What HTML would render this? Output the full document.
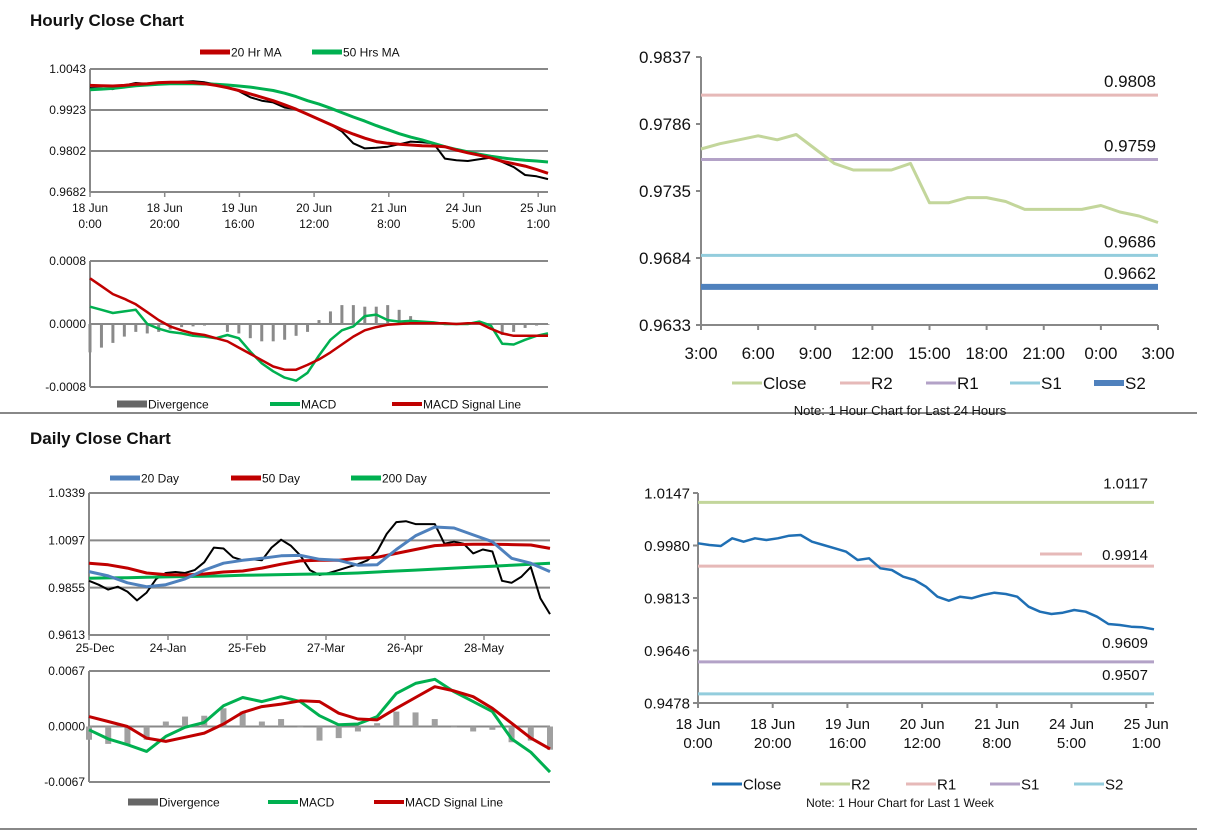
<!DOCTYPE html>
<html><head><meta charset="utf-8"><style>
html,body{margin:0;padding:0;background:#fff;width:1212px;height:834px;overflow:hidden}
svg{display:block;font-family:"Liberation Sans",Arial,sans-serif}
</style></head><body>
<svg id="s" width="1212" height="834" viewBox="0 0 1212 834">
<text x="30" y="26" font-size="17" font-weight="bold" fill="#111">Hourly Close Chart</text>
<text x="30" y="444" font-size="17" font-weight="bold" fill="#111">Daily Close Chart</text>
<line x1="0" y1="413" x2="1197" y2="413" stroke="#888" stroke-width="2"/>
<line x1="0" y1="829" x2="1197" y2="829" stroke="#888" stroke-width="2"/>
</svg>
<script>
// ---- Hourly (top-left) ----
const hourTicks=["18 Jun|0:00","18 Jun|20:00","19 Jun|16:00","20 Jun|12:00","21 Jun|8:00","24 Jun|5:00","25 Jun|1:00"];
const hourYTicks=["1.0043","0.9923","0.9802","0.9682"];
const hourClose=[0.9987,0.9986,0.9984,0.9995,1.0002,1.0000,1.0003,1.0004,1.0005,1.0007,1.0004,0.9998,0.9990,0.9978,0.9960,0.9950,0.9945,0.9930,0.9925,0.9910,0.9895,0.9880,0.9860,0.9825,0.9810,0.9812,0.9815,0.9822,0.9830,0.9828,0.9825,0.9780,0.9775,0.9773,0.9778,0.9783,0.9770,0.9755,0.9732,0.9728,0.9720];
const hourMA20=[0.9995,0.9994,0.9993,0.9995,0.9998,1.0000,1.0003,1.0004,1.0004,1.0003,1.0000,0.9995,0.9988,0.9980,0.9970,0.9960,0.9950,0.9938,0.9925,0.9910,0.9895,0.9880,0.9865,0.9852,0.9840,0.9830,0.9825,0.9822,0.9820,0.9818,0.9817,0.9815,0.9805,0.9797,0.9790,0.9782,0.9772,0.9765,0.9758,0.9748,0.9737];
const hourMA50=[0.9982,0.9984,0.9986,0.9990,0.9994,0.9996,0.9998,1.0000,1.0000,1.0000,0.9999,0.9998,0.9996,0.9993,0.9990,0.9985,0.9980,0.9972,0.9962,0.9950,0.9940,0.9928,0.9915,0.9902,0.9890,0.9877,0.9865,0.9853,0.9843,0.9835,0.9825,0.9815,0.9807,0.9800,0.9793,0.9787,0.9782,0.9778,0.9775,0.9773,0.9770];
const hourMacdTicks=["0.0008","0.0000","-0.0008"];
const hourMacd=[0.00022,0.00018,0.00014,0.00016,0.00018,0.0,-0.00006,-0.0001,-0.00012,-0.00015,-0.00016,-0.00018,-0.00014,-0.00018,-0.00035,-0.00050,-0.00060,-0.00068,-0.00072,-0.00062,-0.00040,-0.00020,-0.00008,-0.00003,0.00010,0.00012,0.00005,0.00003,0.00004,0.00003,0.00002,0.0,0.0,0.0,0.00003,-0.00002,-0.00025,-0.00026,-0.00020,-0.00015,-0.00012];
const hourSignal=[0.00058,0.00048,0.00038,0.00032,0.00025,0.00015,0.00005,-0.00003,-0.00008,-0.00012,-0.00014,-0.00018,-0.00022,-0.00030,-0.00038,-0.00046,-0.00054,-0.00058,-0.00058,-0.00052,-0.00045,-0.00036,-0.00026,-0.00016,-0.00008,-0.00004,-0.00001,0.0,0.00001,0.00001,0.00001,0.00001,0.0,0.00001,0.00001,-0.00006,-0.00012,-0.00015,-0.00015,-0.00015,-0.00015];
const hourDiv=[-0.00036,-0.00030,-0.00024,-0.00016,-0.0001,-0.00012,-0.0001,-0.00007,-0.00004,-0.00003,-0.00002,0.00001,-0.0001,-0.00012,-0.00018,-0.00022,-0.00022,-0.0002,-0.00015,-0.0001,0.00005,0.00016,0.00024,0.00024,0.00022,0.00022,0.00024,0.00018,0.0001,0.00004,0.00002,0.00001,0.0,-0.00001,0.00001,-0.00002,-0.00014,-0.0001,-0.00005,-0.00002,-0.00001];
// ---- 24h (top-right) ----
const dayHourTicks=["3:00","6:00","9:00","12:00","15:00","18:00","21:00","0:00","3:00"];
const dayHourYTicks=["0.9837","0.9786","0.9735","0.9684","0.9633"];
const dayHourClose=[0.9767,0.9771,0.9774,0.9777,0.9774,0.9778,0.9767,0.9756,0.9751,0.9751,0.9751,0.9756,0.9726,0.9726,0.9730,0.9730,0.9727,0.9721,0.9721,0.9721,0.9721,0.9724,0.9719,0.9716,0.9711];
const dayHourLevels=[["R2",0.9808,"#e6b9b8",3],["R1",0.9759,"#b3a2c7",3],["S1",0.9686,"#93cddd",3],["S2",0.9662,"#4f81bd",6]];
// ---- Daily (bottom-left) ----
const dailyTicks=["25-Dec","24-Jan","25-Feb","27-Mar","26-Apr","28-May"];
const dailyYTicks=["1.0339","1.0097","0.9855","0.9613"];
const dailyClose=[0.9890,0.9870,0.9845,0.9860,0.9835,0.9790,0.9830,0.9900,0.9930,0.9935,0.9930,0.9945,0.9985,1.0060,1.0055,1.0010,0.9995,1.0000,0.9995,1.0060,1.0100,1.0070,1.0020,0.9945,0.9920,0.9930,0.9945,0.9960,0.9975,0.9995,1.0040,1.0130,1.0190,1.0195,1.0180,1.0180,1.0180,1.0080,1.0090,1.0080,1.0030,1.0050,1.0040,0.9890,0.9880,0.9910,0.9960,0.9800,0.9720];
const daily20=[0.9937,0.9915,0.9880,0.9860,0.9870,0.9900,0.9945,0.9980,0.9995,1.0005,1.0018,1.0020,1.0000,0.9995,0.9970,0.9972,1.0050,1.0120,1.0165,1.0160,1.0125,1.0090,1.0005,0.9980,0.9937];
const daily50=[0.9980,0.9972,0.9955,0.9930,0.9922,0.9920,0.9925,0.9935,0.9940,0.9955,0.9975,0.9992,0.9995,0.9995,1.0005,1.0010,1.0030,1.0050,1.0070,1.0075,1.0077,1.0077,1.0075,1.0073,1.0056];
const daily200=[0.9903,0.9905,0.9906,0.9908,0.9910,0.9912,0.9913,0.9915,0.9918,0.9920,0.9922,0.9924,0.9925,0.9927,0.9930,0.9935,0.9940,0.9945,0.9950,0.9955,0.9960,0.9965,0.9970,0.9975,0.9980];
const dailyMacdTicks=["0.0067","0.0000","-0.0067"];
const dailyMacd=[-0.0004,-0.0015,-0.0022,-0.0030,-0.0012,-0.0001,0.0005,0.0025,0.0035,0.0030,0.0036,0.0030,0.0013,0.0002,0.0003,0.0012,0.0040,0.0052,0.0057,0.0042,0.0030,0.0018,-0.0015,-0.0031,-0.0055];
const dailySignal=[0.0012,0.0006,0.0000,-0.0014,-0.0018,-0.0013,-0.0008,0.0003,0.0017,0.0024,0.0027,0.0031,0.0030,0.0016,0.0009,0.0008,0.0022,0.0035,0.0048,0.0043,0.0036,0.0022,0.0004,-0.0014,-0.0027];
const dailyDiv=[-0.0016,-0.0021,-0.0022,-0.0016,0.0006,0.0012,0.0013,0.0022,0.0018,0.0006,0.0009,-0.0001,-0.0017,-0.0014,-0.0006,0.0004,0.0018,0.0017,0.0009,-0.0001,-0.0006,-0.0004,-0.0019,-0.0017,-0.0028];
// ---- Week (bottom-right) ----
const weekTicks=["18 Jun|0:00","18 Jun|20:00","19 Jun|16:00","20 Jun|12:00","21 Jun|8:00","24 Jun|5:00","25 Jun|1:00"];
const weekYTicks=["1.0147","0.9980","0.9813","0.9646","0.9478"];
const weekClose=[0.99867,0.99814,0.99782,1.00026,0.99920,1.00026,0.99973,1.00026,1.00111,1.00132,0.99920,0.99814,0.99707,0.99601,0.99336,0.99389,0.99070,0.99017,0.98805,0.98699,0.98486,0.98167,0.98040,0.98167,0.98114,0.98221,0.98295,0.98252,0.98167,0.97849,0.97690,0.97615,0.97658,0.97743,0.97690,0.97530,0.97297,0.97265,0.97212,0.97191,0.97127];
const weekLevels=[["R2",1.0117,"#c3d69b"],["R1",0.9914,"#e6b9b8"],["S1",0.9609,"#b3a2c7"],["S2",0.9507,"#93cddd"]];

const S=document.getElementById('s');const NS='http://www.w3.org/2000/svg';
function mk(tag,at,txt){const e=document.createElementNS(NS,tag);for(const k in at)e.setAttribute(k,at[k]);if(txt!==undefined)e.textContent=txt;S.appendChild(e);return e;}
function scale(d0,d1,r0,r1){return v=>r0+(v-d0)/(d1-d0)*(r1-r0);}
function poly(vals,xf,yf,color,w,name){
  const pts=vals.map((v,i)=>xf(i/(vals.length-1)).toFixed(1)+','+yf(v).toFixed(1)).join(' ');
  const e=mk('polyline',{points:pts,fill:'none',stroke:color,'stroke-width':w,'stroke-linejoin':'round'});
  
  
}
function ytext(x,y,t,fs,name){const e=mk('text',{x:x,y:y+fs*0.35,'font-size':fs,'text-anchor':'end',fill:'#111'},t);
  
  }
function legend(items,y,fs){items.forEach(it=>{const[x,label,color,w]=it;
  const l=mk('line',{x1:x,y1:y,x2:x+30,y2:y,stroke:color,'stroke-width':w});
  
  
  const t=mk('text',{x:x+31,y:y+fs*0.36,'font-size':fs,fill:'#111'},label);
  
  });}

// price panel with gridlines
function pricePanel(L,R,T,B,vmax,vmin,yt,xt,xtickX,fs){
  const yf=scale(vmax,vmin,T,B);
  yt.forEach((t,i)=>{const y=T+i*(B-T)/(yt.length-1);
    const g=mk('line',{x1:L,y1:y,x2:R,y2:y,stroke:'#888','stroke-width':2});
    
    
    ytext(L-4,y,t,fs,'y-tick-label');});
  mk('line',{x1:L,y1:T,x2:L,y2:B,stroke:'#888','stroke-width':2});
  return yf;
}
// Hourly top-left
{const L=90,R=548,T=69,B=192;
 const yf=pricePanel(L,R,T,B,1.0043,0.9682,hourYTicks,null,null,12);
 const xf=scale(0,1,L,R);
 hourTicks.forEach((t,i)=>{const x=L+i*74.7;const p=t.split('|');
   mk('line',{x1:x,y1:B,x2:x,y2:B+5,stroke:'#888','stroke-width':1.5});
   const a=mk('text',{x:x,y:B+20,'font-size':12,'text-anchor':'middle',fill:'#111'},p[0]);
   
   
   const b=mk('text',{x:x,y:B+36,'font-size':12,'text-anchor':'middle',fill:'#111'},p[1]);
   
   });
 poly(hourClose,xf,yf,'#000',2,'hourly-close-line');
 poly(hourMA50,xf,yf,'#00b050',3,'ma50-line');
 poly(hourMA20,xf,yf,'#c00000',3,'ma20-line');
 legend([[200,'20 Hr MA','#c00000',5],[312,'50 Hrs MA','#00b050',5]],52,12);
 // MACD
 const T2=261,B2=387,Z=324;
 const mf=scale(0.0008,-0.0008,T2,B2);
 hourMacdTicks.forEach((t,i)=>{const y=T2+i*(B2-T2)/2;
   const g=mk('line',{x1:L,y1:y,x2:R,y2:y,stroke:'#888','stroke-width':2});
   
   
   ytext(L-4,y,t,12,'y-tick-label');});
 mk('line',{x1:L,y1:T2,x2:L,y2:B2,stroke:'#888','stroke-width':2});
 hourDiv.forEach((v,i)=>{const x=xf(i/(hourDiv.length-1));const y=mf(v);
   const r=mk('rect',{x:x-1.5,y:Math.min(y,mf(0)),width:3,height:Math.abs(y-mf(0)),fill:'#8a8a8a'});
   
   });
 poly(hourMacd,xf,mf,'#00b050',2.5,'macd-line');
 poly(hourSignal,xf,mf,'#c00000',2.5,'signal-line');
 legend([[117,'Divergence','#666',7],[270,'MACD','#00b050',4],[392,'MACD Signal Line','#c00000',4]],404,12);
}
// Top-right 24h
{const L=701,R=1158,T=57,B=325;
 const yf=scale(0.9837,0.9633,T,B);
 mk('line',{x1:L,y1:T,x2:L,y2:B,stroke:'#888','stroke-width':2});
 mk('line',{x1:L,y1:B,x2:R,y2:B,stroke:'#888','stroke-width':2});
 dayHourYTicks.forEach((t,i)=>{const y=T+i*(B-T)/4;mk('line',{x1:L-5,y1:y,x2:L,y2:y,stroke:'#888','stroke-width':2});ytext(L-10,y,t,17,'y-tick-label');});
 const xf=scale(0,1,L,R);
 dayHourTicks.forEach((t,i)=>{const x=L+i*(R-L)/8;mk('line',{x1:x,y1:B,x2:x,y2:B+5,stroke:'#888','stroke-width':2});
   const a=mk('text',{x:x,y:B+34,'font-size':17,'text-anchor':'middle',fill:'#111'},t);
   
   });
 dayHourLevels.forEach(l=>{const y=yf(l[1]);
   const e=mk('line',{x1:L,y1:y,x2:R,y2:y,stroke:l[2],'stroke-width':l[3]});
   
   
   const t=mk('text',{x:R-2,y:y-8,'font-size':17,'text-anchor':'end',fill:'#111'},l[1].toFixed(4));
   
   });
 const cl=yf(dayHourClose[dayHourClose.length-1]);
 poly(dayHourClose,xf,yf,'#c3d69b',3,'close-line');
 legend([[732,'Close','#c3d69b',3],[840,'R2','#e6b9b8',3],[926,'R1','#b3a2c7',3],[1010,'S1','#93cddd',3],[1094,'S2','#4f81bd',6]],383,17);
 const n=mk('text',{x:900,y:415,'font-size':13,'text-anchor':'middle',fill:'#111'},'Note: 1 Hour Chart for Last 24 Hours');
 
 
}
// Daily bottom-left
{const L=89,R=550,T=493,B=635;
 const yf=pricePanel(L,R,T,B,1.0339,0.9613,dailyYTicks,null,null,12);
 const xf=scale(0,1,L,R);
 dailyTicks.forEach((t,i)=>{const x=L+i*79;mk('line',{x1:x,y1:B,x2:x,y2:B+5,stroke:'#888','stroke-width':1.5});
   const a=mk('text',{x:i==0?x+6:x,y:B+17,'font-size':12,'text-anchor':'middle',fill:'#111'},t);
   
   });
 poly(dailyClose,xf,yf,'#000',2,'daily-close-line');
 poly(daily200,xf,yf,'#00b050',3,'ma200-line');
 poly(daily50,xf,yf,'#c00000',3,'ma50-daily-line');
 poly(daily20,xf,yf,'#4f81bd',3,'ma20-daily-line');
 legend([[110,'20 Day','#4f81bd',5],[231,'50 Day','#c00000',5],[351,'200 Day','#00b050',5]],478,12);
 const T2=671,B2=782;
 const mf=scale(0.0067,-0.0067,T2,B2);
 dailyMacdTicks.forEach((t,i)=>{const y=T2+i*(B2-T2)/2;
   const g=mk('line',{x1:L,y1:y,x2:R,y2:y,stroke:'#888','stroke-width':2});
   
   
   ytext(L-4,y,t,12,'y-tick-label');});
 mk('line',{x1:L,y1:T2,x2:L,y2:B2,stroke:'#888','stroke-width':2});
 dailyDiv.forEach((v,i)=>{const x=xf(i/(dailyDiv.length-1));const y=mf(v);
   const r=mk('rect',{x:x-3,y:Math.min(y,mf(0)),width:6,height:Math.abs(y-mf(0)),fill:'#a0a0a0'});
   
   });
 poly(dailyMacd,xf,mf,'#00b050',3,'daily-macd-line');
 poly(dailySignal,xf,mf,'#c00000',3,'daily-signal-line');
 legend([[128,'Divergence','#666',7],[268,'MACD','#00b050',4],[374,'MACD Signal Line','#c00000',4]],802,12);
}
// Bottom-right week
{const L=698,R=1154,T=493,B=703;
 const yf=scale(1.0147,0.9478,T,B);
 mk('line',{x1:L,y1:T,x2:L,y2:B,stroke:'#888','stroke-width':2});
 mk('line',{x1:L,y1:B,x2:R,y2:B,stroke:'#888','stroke-width':2});
 weekYTicks.forEach((t,i)=>{const y=T+i*(B-T)/4;mk('line',{x1:L-5,y1:y,x2:L,y2:y,stroke:'#888','stroke-width':2});ytext(L-8,y,t,15,'y-tick-label');});
 const xf=scale(0,1,L,R);
 weekTicks.forEach((t,i)=>{const x=L+i*74.7;const p=t.split('|');mk('line',{x1:x,y1:B,x2:x,y2:B+5,stroke:'#888','stroke-width':2});
   const a=mk('text',{x:x,y:B+26,'font-size':15,'text-anchor':'middle',fill:'#111'},p[0]);
   
   
   const b=mk('text',{x:x,y:B+45,'font-size':15,'text-anchor':'middle',fill:'#111'},p[1]);
   
   });
 weekLevels.forEach(l=>{const y=yf(l[1]);
   const e=mk('line',{x1:L,y1:y,x2:R,y2:y,stroke:l[2],'stroke-width':3});
   
   
   const t=mk('text',{x:R-6,y:y-(l[0]=='R1'?6:14),'font-size':15,'text-anchor':'end',fill:'#111'},l[1].toFixed(4));
   
   });
 const rk=mk('line',{x1:1040,y1:554,x2:1082,y2:554,stroke:'#e6b9b8','stroke-width':3});
 
 
 poly(weekClose,xf,yf,'#1f6fb4',2.5,'week-close-line');
 legend([[712,'Close','#1f6fb4',3],[820,'R2','#c3d69b',3],[906,'R1','#e6b9b8',3],[990,'S1','#b3a2c7',3],[1074,'S2','#93cddd',3]],784,15);
 const n=mk('text',{x:900,y:807,'font-size':12,'text-anchor':'middle',fill:'#111'},'Note: 1 Hour Chart for Last 1 Week');
 
 
}
</script>
</body></html>
